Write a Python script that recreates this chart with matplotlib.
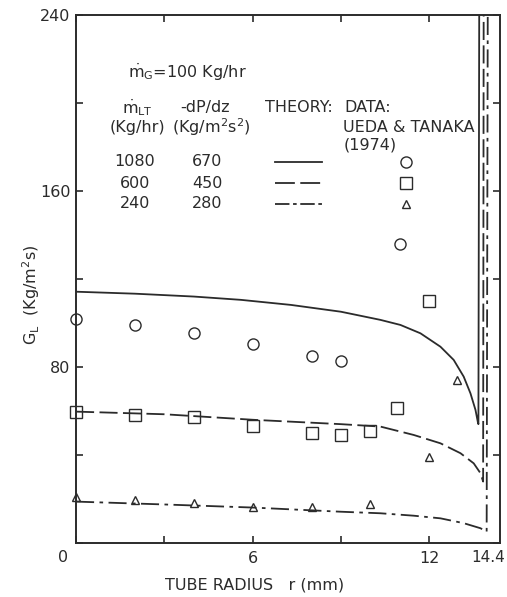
"""Liquid mass flux profile G_L vs tube radius: theory curves and Ueda & Tanaka data."""

import matplotlib
matplotlib.use("Agg")
import matplotlib.pyplot as plt

plt.rcParams.update({"font.size": 11.5, "font.family": "DejaVu Sans"})
ink = "#2b2b2b"

# theory curves, r in mm, G_L in Kg/m2 s
r_1080 = [0, 2, 4, 5.6, 7.3, 9.0, 10.34, 11.02, 11.7, 12.38, 12.83, 13.17,
          13.4, 13.57, 13.65, 13.67, 13.70]
g_1080 = [114.2, 113.3, 112.0, 110.5, 108.2, 105.1, 101.4, 99.1, 95.3, 89.2,
          83.2, 75.6, 68.0, 60.5, 55.0, 54.0, 260]
r_600 = [0, 3, 6, 9, 10.34, 11.47, 12.38, 13.06, 13.51, 13.74, 13.83, 13.85]
g_600 = [59.7, 58.5, 56.0, 54.0, 52.9, 49.1, 45.3, 40.8, 36.2, 31.7, 27.9, 260]
r_240 = [0, 3, 6, 9, 10.34, 11.47, 12.38, 13.17, 13.74, 13.95, 13.99]
g_240 = [18.8, 17.5, 16.1, 14.2, 13.5, 12.4, 11.2, 9.0, 6.7, 5.1, 260]

# Ueda & Tanaka (1974) data
dr_1080 = [0, 2, 4, 6, 8, 9, 11]
dg_1080 = [101.8, 99.0, 95.6, 90.6, 85.0, 82.7, 136.0]
dr_600 = [0, 2, 4, 6, 8, 9, 10, 10.9, 12]
dg_600 = [59.7, 58.2, 57.1, 53.3, 50.2, 49.0, 51.0, 61.2, 110.0]
dr_240 = [0, 2, 4, 6, 8, 10, 12, 12.95]
dg_240 = [21.0, 19.5, 18.3, 16.2, 16.5, 17.7, 39.2, 74.0]

rows = [("1080", "670"), ("600", "450"), ("240", "280")]

fig = plt.figure(figsize=(5.07, 5.97), dpi=100)
ax = fig.add_axes([0.15, 0.0905, 0.836, 0.8845])

lw = 1.3
ax.plot(r_1080, g_1080, color=ink, lw=lw)
ax.plot(r_600, g_600, color=ink, lw=lw, dashes=(10, 3))
ax.plot(r_240, g_240, color=ink, lw=lw, dashes=(10, 3, 2, 3))

mk = dict(ls="", mfc="none", mec=ink, mew=1.0)
ax.plot(dr_1080, dg_1080, marker="o", ms=8, clip_on=False, **mk)
ax.plot(dr_600, dg_600, marker="s", ms=8, clip_on=False, **mk)
ax.plot(dr_240, dg_240, marker="^", ms=6, clip_on=False, **mk)

# legend block drawn as text
ax.text(1.77, 214, r"$\dot{\mathrm{m}}_\mathrm{G}$=100 Kg/hr", color=ink, va="center")
ax.text(2.1, 197.7, r"$\dot{\mathrm{m}}_\mathrm{LT}$", color=ink, ha="center", va="center")
ax.text(2.07, 189, "(Kg/hr)", color=ink, ha="center", va="center")
ax.text(4.4, 197.7, "-dP/dz", color=ink, ha="center", va="center")
ax.text(4.6, 189, r"(Kg/m$^2$s$^2$)", color=ink, ha="center", va="center")
ax.text(6.43, 197.7, "THEORY:", color=ink, va="center")
ax.text(9.12, 197.7, "DATA:", color=ink, va="center")
ax.text(9.08, 189, "UEDA & TANAKA", color=ink, va="center")
ax.text(9.08, 180.9, "(1974)", color=ink, va="center")

row_y = [173.2, 163.6, 154.1]
styles = [dict(), dict(dashes=(11, 3)), dict(dashes=(8, 2, 2, 2))]
markers = [("o", 8), ("s", 8), ("^", 6)]
for (m_lt, dp), yy, st, (m, s) in zip(rows, row_y, styles, markers):
    ax.text(2.0, yy, m_lt, color=ink, ha="center", va="center")
    ax.text(4.46, yy, dp, color=ink, ha="center", va="center")
    ax.plot([6.77, 8.37], [yy, yy], color=ink, lw=lw, **st)
    ax.plot([11.22], [yy], marker=m, ms=s, **mk)

ax.set_xlim(0, 14.4)
ax.set_ylim(0, 240)
ax.set_xticks([0, 3, 6, 9, 12])
ax.set_xticklabels(["", "", "6", "", "12"])
ax.set_yticks([0, 40, 80, 120, 160, 200, 240])
ax.set_yticklabels(["", "", "80", "", "160", "", "240"])
ax.tick_params(direction="in", length=5, width=1.2, colors=ink,
               top=True, right=True, labelsize=11.5)
ax.tick_params(axis="x", pad=6)
ax.tick_params(axis="y", pad=4)
for sp in ax.spines.values():
    sp.set_linewidth(1.4)
    sp.set_color(ink)

ax.text(-0.44, -6.4, "0", color=ink, ha="center", va="center", fontsize=11.5)
fig.text(0.997, 1 - 557 / 597, "14.4", color=ink, ha="right", va="center",
         fontsize=11)

fig.text(0.503, 0.02, "TUBE RADIUS   r (mm)", color=ink, ha="center", va="center")
fig.text(0.061, 0.506, r"G$_\mathrm{L}$  (Kg/m$^2$s)", color=ink, rotation=90,
         ha="center", va="center")

fig.savefig("out.png", dpi=100)
